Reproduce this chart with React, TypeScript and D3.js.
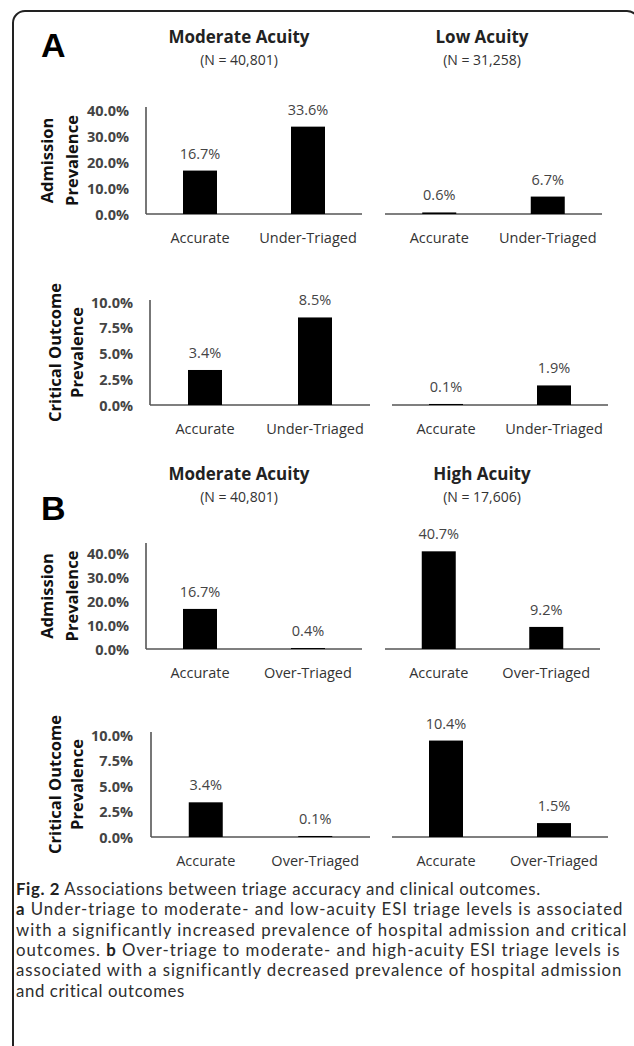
import React from "react";
import * as d3 from "d3";

// group headings
const groupTitles = ["Moderate Acuity", "Low Acuity", "Moderate Acuity", "High Acuity"];
const groupSizes = ["(N = 40,801)", "(N = 31,258)", "(N = 40,801)", "(N = 17,606)"];

// categories
const categoriesA = ["Accurate", "Under-Triaged"];
const categoriesB = ["Accurate", "Over-Triaged"];

// values (%)
const admissionModerateA = [16.7, 33.6];
const admissionLowA = [0.6, 6.7];
const criticalModerateA = [3.4, 8.5];
const criticalLowA = [0.1, 1.9];
const admissionModerateB = [16.7, 0.4];
const admissionHighB = [40.7, 9.2];
const criticalModerateB = [3.4, 0.1];
const criticalHighB = [10.4, 1.5];

// axis ticks
const admissionTicks = [0, 10, 20, 30, 40];
const criticalTicks = [0, 2.5, 5, 7.5, 10];

const W = 634;
const H = 1046;
const FONT = "'Open Sans', 'Noto Sans', sans-serif";
const CAP_FONT = "Lato, 'Open Sans', sans-serif";
const BAR_W = 34;

type ChartProps = {
  values: number[];
  cats: string[];
  x0: number;
  x1: number;
  base: number;
  top: number;
  max: number;
  ticks?: number[];
  tickX?: number;
  axisTop?: number;
  title?: string[];
  titleX?: number[];
};

const fmt = (v: number) => d3.format(".1f")(v) + "%";

function Chart(p: ChartProps) {
  const x = d3.scalePoint<string>().domain(p.cats).range([p.x0, p.x1]).padding(0.5);
  const y = d3.scaleLinear().domain([0, p.max]).range([p.base, p.top]);
  const midY = (p.base + (p.axisTop ?? p.top)) / 2;
  return (
    <g>
      {p.ticks && (
        <g>
          <line x1={p.x0} x2={p.x0} y1={p.axisTop} y2={p.base} stroke="#555" strokeWidth={1.6} />
          {p.ticks.map((t) => (
            <text key={t} x={p.tickX} y={y(t)} dy="0.38em" textAnchor="end"
              fontFamily={FONT} fontSize={14.5} fontWeight={700} fill="#444">
              {fmt(t)}
            </text>
          ))}
        </g>
      )}
      {p.title && p.titleX && p.title.map((line, i) => (
        <text key={line + i} transform={`translate(${p.titleX![i]},${midY}) rotate(-90)`}
          textAnchor="middle" dy="0.35em" fontFamily={FONT} fontSize={16.5} fontWeight={700} fill="#111">
          {line}
        </text>
      ))}
      <line x1={p.x0} x2={p.x1} y1={p.base} y2={p.base} stroke="#555" strokeWidth={1.6} />
      {p.values.map((v, i) => {
        const cx = x(p.cats[i])!;
        return (
          <g key={i}>
            <rect x={cx - BAR_W / 2} y={y(v)} width={BAR_W} height={p.base - y(v)} fill="#000" />
            <text x={cx} y={y(v) - 12} textAnchor="middle" fontFamily={FONT} fontSize={14.5} fill="#444">
              {fmt(v)}
            </text>
            <text x={cx} y={p.base + 29} textAnchor="middle" fontFamily={FONT} fontSize={14.5} fill="#333">
              {p.cats[i]}
            </text>
          </g>
        );
      })}
    </g>
  );
}

function Heading({ x, y, i }: { x: number; y: number; i: number }) {
  return (
    <g>
      <text x={x} y={y} textAnchor="middle" fontFamily={FONT} fontSize={17} fontWeight={700} fill="#222">
        {groupTitles[i]}
      </text>
      <text x={x} y={y + 22} textAnchor="middle" fontFamily={FONT} fontSize={14} fill="#333">
        {groupSizes[i]}
      </text>
    </g>
  );
}

export default function App() {
  const capX = 16;
  const capY = 895;
  const lh = 20.3;
  const cap = { fontFamily: CAP_FONT, fontSize: 16.8, fill: "#2e2e2e", letterSpacing: 0.6 } as const;
  const just = { lengthAdjust: "spacing" } as const;
  return (
    <svg width={W} height={H} style={{ position: "absolute", left: 0, top: 0, background: "#fff" }}>
      <rect x={13} y={11} width={626} height={1200} rx={12} fill="none" stroke="#222" strokeWidth={2} />

      {/* panel A */}
      <text x={41} y={57} fontFamily="'Liberation Sans', Arial, sans-serif" fontSize={34} fontWeight={700}>A</text>
      <Heading x={239} y={43} i={0} />
      <Heading x={482} y={43} i={1} />
      <Chart values={admissionModerateA} cats={categoriesA} x0={146} x1={362} base={214} top={110} max={40}
        ticks={admissionTicks} tickX={129} axisTop={107} title={["Admission", "Prevalence"]} titleX={[47, 72]} />
      <Chart values={admissionLowA} cats={categoriesA} x0={385} x1={602} base={214} top={110} max={40} />
      <Chart values={criticalModerateA} cats={categoriesA} x0={150} x1={370} base={405} top={302} max={10}
        ticks={criticalTicks} tickX={133} axisTop={300} title={["Critical Outcome", "Prevalence"]} titleX={[55, 77]} />
      <Chart values={criticalLowA} cats={categoriesA} x0={392} x1={608} base={405} top={302} max={10} />

      {/* panel B */}
      <text x={41} y={520} fontFamily="'Liberation Sans', Arial, sans-serif" fontSize={34} fontWeight={700}>B</text>
      <Heading x={239} y={480} i={2} />
      <Heading x={482} y={480} i={3} />
      <Chart values={admissionModerateB} cats={categoriesB} x0={146} x1={362} base={649} top={553} max={40}
        ticks={admissionTicks} tickX={129} axisTop={543} title={["Admission", "Prevalence"]} titleX={[47, 72]} />
      <Chart values={admissionHighB} cats={categoriesB} x0={385} x1={600} base={649} top={553} max={40} />
      <Chart values={criticalModerateB} cats={categoriesB} x0={151} x1={370} base={837} top={735} max={10}
        ticks={criticalTicks} tickX={133} axisTop={732} title={["Critical Outcome", "Prevalence"]} titleX={[55, 77]} />
      <Chart values={criticalHighB} cats={categoriesB} x0={392} x1={608} base={837} top={735} max={11} />

      {/* caption */}
      <text x={capX} y={capY} {...cap}>
        <tspan fontWeight={700} fill="#222">Fig. 2</tspan> Associations between triage accuracy and clinical outcomes.
      </text>
      <text x={capX} y={capY + lh} {...cap} {...just} textLength={607}>
        <tspan fontWeight={700} fill="#222">a</tspan> Under-triage to moderate- and low-acuity ESI triage levels is associated
      </text>
      <text x={capX} y={capY + lh * 2} {...cap} {...just} textLength={611}>
        with a significantly increased prevalence of hospital admission and critical
      </text>
      <text x={capX} y={capY + lh * 3} {...cap} {...just} textLength={604}>
        outcomes. <tspan fontWeight={700} fill="#222">b</tspan> Over-triage to moderate- and high-acuity ESI triage levels is
      </text>
      <text x={capX} y={capY + lh * 4} {...cap} {...just} textLength={606}>
        associated with a significantly decreased prevalence of hospital admission
      </text>
      <text x={capX} y={capY + lh * 5} {...cap}>
        and critical outcomes
      </text>
    </svg>
  );
}
